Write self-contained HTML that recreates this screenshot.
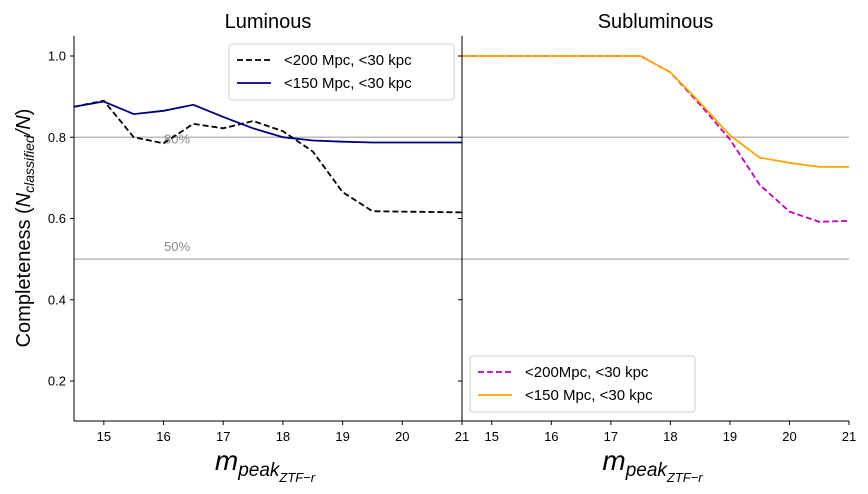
<!DOCTYPE html>
<html><head><meta charset="utf-8"><style>
body{margin:0;background:#fff;}
svg text{font-family:"Liberation Sans","DejaVu Sans",sans-serif;}
</style></head><body>
<svg id="c" width="868" height="489" xmlns="http://www.w3.org/2000/svg"></svg>
<script>
const xs = [14.5,15,15.5,16,16.5,17,17.5,18,18.5,19,19.5,20,20.5,21];
const lum200 = [0.875,0.89,0.80,0.785,0.833,0.822,0.84,0.815,0.765,0.665,0.618,0.617,0.616,0.615];
const lum150 = [0.875,0.888,0.857,0.865,0.88,0.85,0.822,0.80,0.792,0.789,0.787,0.787,0.787,0.787];
const sub200 = [1,1,1,1,1,1,1,0.96,0.88,0.795,0.683,0.617,0.592,0.594];
const sub150 = [1,1,1,1,1,1,1,0.96,0.885,0.805,0.75,0.737,0.727,0.727];
const xTicks = [15,16,17,18,19,20,21];
const yTicks = [0.2,0.4,0.6,0.8,1.0];
const refLines = [0.8,0.5];

const NS="http://www.w3.org/2000/svg";
const svg=document.getElementById('c');
function el(t,a,txt){const e=document.createElementNS(NS,t);for(const k in a)e.setAttribute(k,a[k]);if(txt!=null)e.textContent=txt;svg.appendChild(e);return e;}
const plotTop=35.7,bot=421;
function y(v){return 381-(v-0.2)*(325/0.8);}
const panels=[{x0:74,x1:462,title:'Luminous'},{x0:462,x1:849,title:'Subluminous'}];
function xf(p){return v=>p.x0+(v-14.5)*(p.x1-p.x0)/6.5;}

panels.forEach((p,i)=>{
  const X=xf(p);
  refLines.forEach(r=>{
    const l=el('line',{x1:p.x0,x2:p.x1,y1:y(r),y2:y(r),stroke:'#bbb','stroke-width':1.5});
    
    
  });
  const t=el('text',{x:(p.x0+p.x1)/2,y:28,'text-anchor':'middle','font-size':20},p.title);
  
  
  xTicks.forEach(v=>{
    el('line',{x1:X(v),x2:X(v),y1:bot,y2:bot+4,stroke:'#000'});
    const tt=el('text',{x:X(v),y:bot+20,'text-anchor':'middle','font-size':13},String(v));
    
    
  });
  yTicks.forEach(v=>{
    el('line',{x1:p.x0-4,x2:p.x0,y1:y(v),y2:y(v),stroke:'#000'});
    if(i===0){
      const tt=el('text',{x:p.x0-8,y:y(v)+4.5,'text-anchor':'end','font-size':13},v.toFixed(1));
      
      
    }
  });
  const xl=el('text',{x:(p.x0+p.x1)/2-3,y:470,'text-anchor':'middle','font-size':28,'font-style':'italic'});
  xl.innerHTML='m<tspan font-size="19" dy="6">peak</tspan><tspan font-size="13" dy="6">ZTF−r</tspan>';
  
  
});
[['80%',0.8],['50%',0.5]].forEach(([s,v])=>{
  const t=el('text',{x:164,y:y(v)-8+(v===0.8?14:0),'font-size':13,fill:'#888'},s);
  
  
});
function series(p,vals,color,dash,name){
  const X=xf(p);
  const d=vals.map((v,j)=>(j?'L':'M')+X(xs[j]).toFixed(1)+','+y(v).toFixed(1)).join('');
  const e=el('path',{d:d,fill:'none',stroke:color,'stroke-width':1.8,'stroke-dasharray':dash||'none'});
  
  
}
series(panels[0],lum200,'#000','6,3','series-luminous-200mpc');
series(panels[0],lum150,'#000080',null,'series-luminous-150mpc');
series(panels[1],sub200,'#c000c0','6,3','series-subluminous-200mpc');
series(panels[1],sub150,'#ffa500',null,'series-subluminous-150mpc');
el('line',{x1:74,x2:74,y1:plotTop,y2:bot,stroke:'#000'});
el('line',{x1:462,x2:462,y1:plotTop,y2:bot,stroke:'#000'});
el('line',{x1:74,x2:849,y1:bot,y2:bot,stroke:'#000'});
const yl=el('text',{transform:'translate(30,228) rotate(-90)','text-anchor':'middle','font-size':20});
yl.innerHTML='Completeness (<tspan font-style="italic">N</tspan><tspan font-style="italic" font-size="14" dy="4">classified</tspan><tspan dy="-4" font-style="italic">/N</tspan>)';


function legend(x,y0,w,items,name){
  const g=el('rect',{x:x,y:y0,width:w,height:56,rx:3,fill:'#fff','fill-opacity':0.85,stroke:'#ccc'});
  
  
  items.forEach((it,k)=>{
    const yy=y0+16+k*23;
    el('line',{x1:x+8,x2:x+42,y1:yy,y2:yy,stroke:it[1],'stroke-width':1.8,'stroke-dasharray':it[2]||'none'});
    const t=el('text',{x:x+55,y:yy+5,'font-size':15},it[0]);
    
    
  });
}
legend(229,44,225,[['<200 Mpc, <30 kpc','#000','6,3'],['<150 Mpc, <30 kpc','#000080']],'legend-luminous');
legend(470,356,225,[['<200Mpc, <30 kpc','#c000c0','6,3'],['<150 Mpc, <30 kpc','#ffa500']],'legend-subluminous');
</script>
</body></html>
